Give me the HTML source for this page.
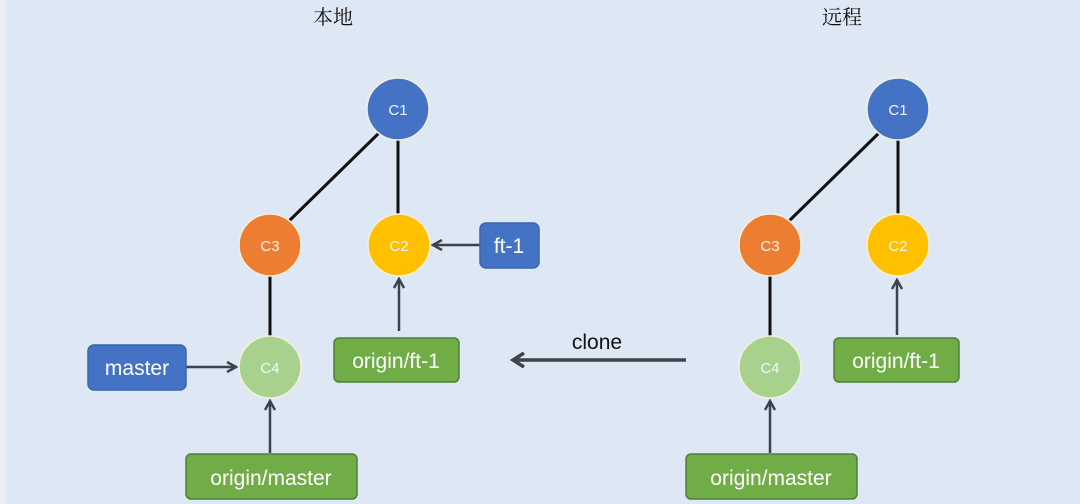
<!DOCTYPE html>
<html><head><meta charset="utf-8"><style>
html,body{margin:0;padding:0;width:1080px;height:504px;overflow:hidden;background:#dde8f4}
svg{display:block}
</style></head><body>
<svg width="1080" height="504" viewBox="0 0 1080 504" xmlns="http://www.w3.org/2000/svg">
<defs>
<marker id="ah" viewBox="0 0 12 12" refX="10" refY="6" markerWidth="12" markerHeight="12" markerUnits="userSpaceOnUse" orient="auto">
<path d="M1,1 L10,6 L1,11" fill="none" stroke="#3d434b" stroke-width="2.5"/>
</marker>
<marker id="ah2" viewBox="0 0 16 16" refX="13" refY="8" markerWidth="16" markerHeight="16" markerUnits="userSpaceOnUse" orient="auto">
<path d="M2,1 L13,8 L2,15" fill="none" stroke="#3d434b" stroke-width="3.5"/>
</marker>
</defs>
<rect x="0" y="0" width="6" height="504" fill="#e9edf4"/>
<g font-family="'Liberation Serif','Noto Serif CJK SC',serif" font-size="20" fill="#111" text-anchor="middle">
<text x="333" y="24">本地</text>
<text x="842" y="24">远程</text>
</g>
<g stroke="#111" stroke-width="3">
<line x1="380" y1="132" x2="288" y2="222"/>
<line x1="398" y1="140" x2="398" y2="214"/>
<line x1="270" y1="276" x2="270" y2="336"/>
<line x1="880" y1="132" x2="788" y2="222"/>
<line x1="898" y1="140" x2="898" y2="214"/>
<line x1="770" y1="276" x2="770" y2="336"/>
</g>
<g stroke="#3d434b" stroke-width="2.5">
<line x1="480" y1="245" x2="433" y2="245" marker-end="url(#ah)"/>
<line x1="399" y1="331" x2="399" y2="279" marker-end="url(#ah)"/>
<line x1="186" y1="367" x2="236" y2="367" marker-end="url(#ah)"/>
<line x1="270" y1="453" x2="270" y2="401" marker-end="url(#ah)"/>
<line x1="897" y1="335" x2="897" y2="280" marker-end="url(#ah)"/>
<line x1="770" y1="453" x2="770" y2="401" marker-end="url(#ah)"/>
<line x1="686" y1="360" x2="513" y2="360" stroke-width="3.5" marker-end="url(#ah2)"/>
</g>
<g stroke="#f4f0e0" stroke-width="1.5">
<circle cx="398" cy="109" r="31" fill="#4472c4"/>
<circle cx="270" cy="245" r="31" fill="#ed7d31"/>
<circle cx="399" cy="245" r="31" fill="#ffc000"/>
<circle cx="270" cy="367" r="31" fill="#a9d18e"/>
<circle cx="898" cy="109" r="31" fill="#4472c4"/>
<circle cx="770" cy="245" r="31" fill="#ed7d31"/>
<circle cx="898" cy="245" r="31" fill="#ffc000"/>
<circle cx="770" cy="367" r="31" fill="#a9d18e"/>
</g>
<g font-family="'Liberation Sans',sans-serif" font-size="15" fill="#f3f6fb" text-anchor="middle">
<text x="398" y="115">C1</text>
<text x="270" y="251">C3</text>
<text x="399" y="251">C2</text>
<text x="270" y="373">C4</text>
<text x="898" y="115">C1</text>
<text x="770" y="251">C3</text>
<text x="898" y="251">C2</text>
<text x="770" y="373">C4</text>
</g>
<g stroke-width="1.5">
<rect x="88" y="345" width="98" height="45" rx="6" fill="#4472c4" stroke="#3a64ad"/>
<rect x="480" y="223" width="59" height="45" rx="6" fill="#4472c4" stroke="#3a64ad"/>
<rect x="334" y="338" width="125" height="44" rx="5" fill="#70ad47" stroke="#4f7f3a"/>
<rect x="186" y="454" width="171" height="45" rx="5" fill="#70ad47" stroke="#4f7f3a"/>
<rect x="834" y="338" width="125" height="44" rx="5" fill="#70ad47" stroke="#4f7f3a"/>
<rect x="686" y="454" width="171" height="45" rx="5" fill="#70ad47" stroke="#4f7f3a"/>
</g>
<g font-family="'Liberation Sans',sans-serif" font-size="21" fill="#ffffff" text-anchor="middle">
<text x="137" y="375">master</text>
<text x="509" y="253">ft-1</text>
<text x="396" y="368">origin/ft-1</text>
<text x="271" y="485">origin/master</text>
<text x="896" y="368">origin/ft-1</text>
<text x="771" y="485">origin/master</text>
</g>
<text x="597" y="349" font-family="'Liberation Sans',sans-serif" font-size="21" fill="#111" text-anchor="middle">clone</text>
</svg>
</body></html>
